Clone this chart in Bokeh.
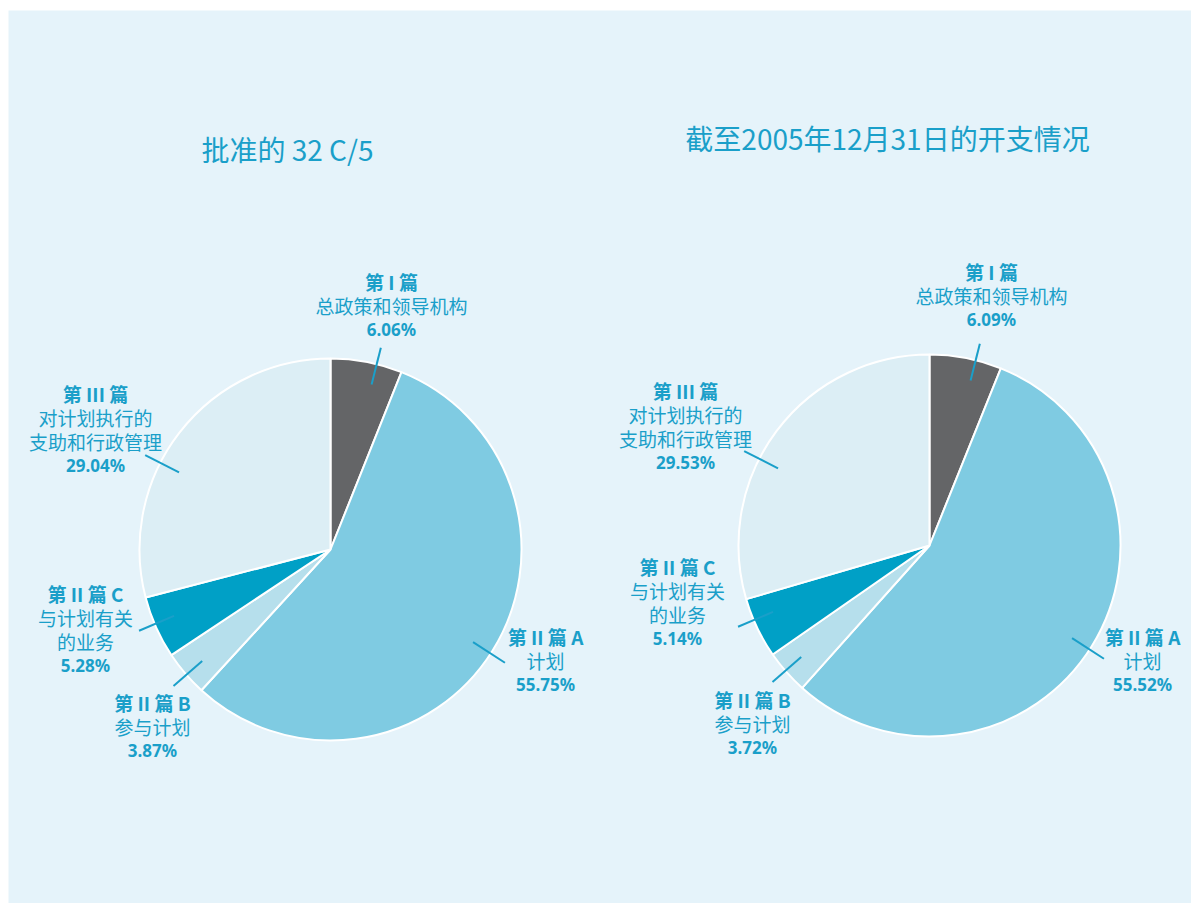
import numpy as np
from bokeh.plotting import figure
from bokeh.models import Range1d
from bokeh.core.properties import value
from bokeh.embed import file_html
from bokeh.resources import INLINE

# ---------------- data ----------------
categories = ["第 I 篇", "第 II 篇 A", "第 II 篇 B", "第 II 篇 C", "第 III 篇"]
descriptions = [["总政策和领导机构"], ["计划"], ["参与计划"],
                ["与计划有关", "的业务"], ["对计划执行的", "支助和行政管理"]]
approved = [6.06, 55.75, 3.87, 5.28, 29.04]
spent = [6.09, 55.52, 3.72, 5.14, 29.53]
titles = ["批准的 32 C/5", "截至2005年12月31日的开支情况"]

# ---------------- layout / style ----------------
W, H = 1191, 903
colors = ["#646567", "#7FCBE2", "#B6DFEC", "#00A0C6", "#DCEEF5"]
txt_color = "#1A9FC9"
panel_color = "#E5F3FA"
R = 191
pies = [
    dict(values=approved, cx=330, cy=549, title=(287, 148),
         labels=[(391, 281), (545, 636), (152, 702), (85, 593), (95, 393)]),
    dict(values=spent, cx=929, cy=545, title=(887, 137),
         labels=[(991, 271), (1142, 636), (752, 699), (677, 566), (685, 390)]),
]
leader_angles = [76, -33, 221, 203, 153]
leader_r = (170, 208)
line_gap = 24

p = figure(width=W, height=H, output_backend="svg", toolbar_location=None,
           x_range=Range1d(0, W), y_range=Range1d(0, H),
           x_axis_location=None, y_axis_location=None, min_border=0)
p.grid.visible = False
p.outline_line_color = None
p.background_fill_color = "white"
p.border_fill_color = "white"

def Y(y):
    return H - y

# background panel
p.quad(left=[8], right=[W], top=[Y(10)], bottom=[Y(H)], fill_color=panel_color, line_color=None)

for k, pie in enumerate(pies):
    vals = np.array(pie["values"], dtype=float)
    frac = vals / vals.sum()
    cum_end = np.cumsum(frac)
    cum_start = cum_end - frac
    start = np.deg2rad(90 - cum_end * 360)
    end = np.deg2rad(90 - cum_start * 360)
    cx, cy = pie["cx"], Y(pie["cy"])
    p.wedge(x=cx, y=cy, radius=R, start_angle=list(start), end_angle=list(end),
            fill_color=colors, line_color="white", line_width=2)

    # leader lines
    a = np.deg2rad(leader_angles)
    x0 = cx + leader_r[0] * np.cos(a)
    y0 = cy + leader_r[0] * np.sin(a)
    x1 = cx + leader_r[1] * np.cos(a)
    y1 = cy + leader_r[1] * np.sin(a)
    p.segment(x0=list(x0), y0=list(y0), x1=list(x1), y1=list(y1),
              line_color=txt_color, line_width=2)

    # title
    tx, ty = pie["title"]
    p.text(x=[tx], y=[Y(ty)], text=[titles[k]], text_font=value("Noto Sans CJK SC"),
           text_font_size="28px", text_color=txt_color, text_align="center",
           text_baseline="middle")

    # labels
    for i, (lx, ly) in enumerate(pie["labels"]):
        yy = ly
        p.text(x=[lx], y=[Y(yy)], text=[categories[i]], text_font=value("Noto Sans CJK SC"),
               text_font_size="19px", text_font_style="bold", text_color=txt_color,
               text_align="center", text_baseline="middle")
        for d in descriptions[i]:
            yy += line_gap
            p.text(x=[lx], y=[Y(yy)], text=[d], text_font=value("Noto Sans CJK SC"),
                   text_font_size="19px", text_color=txt_color,
                   text_align="center", text_baseline="middle")
        yy += line_gap
        p.text(x=[lx], y=[Y(yy)], text=["%.2f%%" % vals[i]], text_font=value("Noto Sans"),
               text_font_size="17px", text_font_style="bold", text_color=txt_color,
               text_align="center", text_baseline="middle")

open("out.html", "w").write(file_html(p, INLINE))
